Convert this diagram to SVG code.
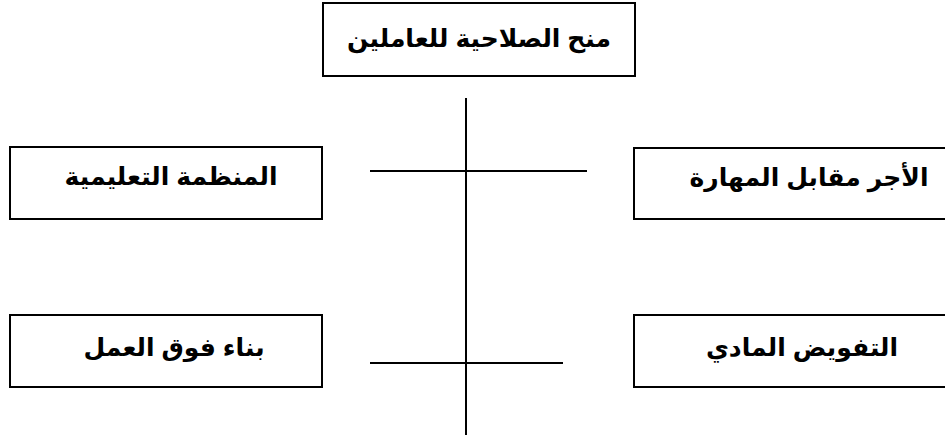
<svg xmlns="http://www.w3.org/2000/svg" width="945" height="439" viewBox="0 0 945 439">
<style>
.box{fill:#fff;stroke:#000;stroke-width:2}
.t{font-family:"Liberation Sans","DejaVu Sans",sans-serif;font-weight:bold;font-size:25px;fill:#000;text-anchor:middle;direction:rtl}
.c{stroke:#000;stroke-width:2;fill:none}
</style>
<rect width="945" height="439" fill="#fff"/>
<g id="connectors">
<line class="c" x1="466" y1="98" x2="466" y2="435"/>
<line class="c" x1="370" y1="171" x2="587" y2="171"/>
<line class="c" x1="370" y1="363" x2="563" y2="363"/>
</g>
<g id="top">
<rect class="box" x="323" y="3" width="312" height="73"/>
<text class="t" x="479" y="47">منح الصلاحية للعاملين</text>
</g>
<g id="left1">
<rect class="box" x="10" y="147" width="312" height="72"/>
<text class="t" x="171" y="185">المنظمة التعليمية</text>
</g>
<g id="right1">
<rect class="box" x="634" y="148" width="320" height="71"/>
<text class="t" x="809" y="186">الأجر مقابل المهارة</text>
</g>
<g id="left2">
<rect class="box" x="10" y="315" width="312" height="72"/>
<text class="t" x="174" y="356">بناء فوق العمل</text>
</g>
<g id="right2">
<rect class="box" x="634" y="315" width="320" height="72"/>
<text class="t" x="802" y="356">التفويض المادي</text>
</g>
</svg>
